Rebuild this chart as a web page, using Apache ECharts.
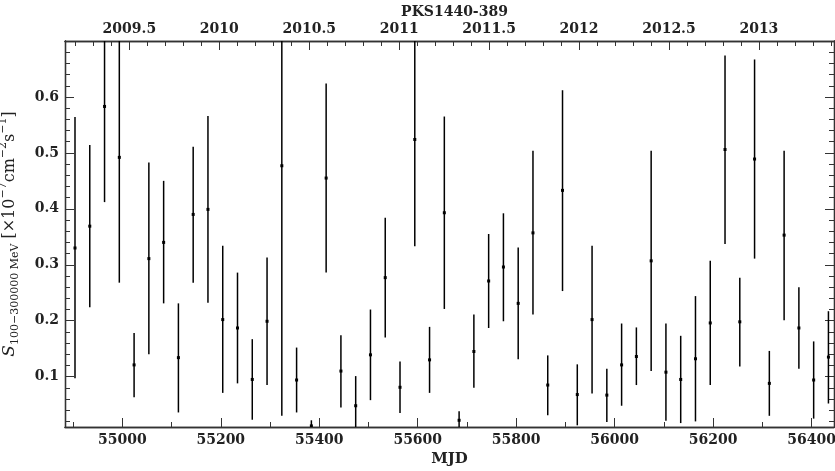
<!DOCTYPE html>
<html>
<head>
<meta charset="utf-8">
<title>PKS1440-389</title>
<script src="https://cdn.jsdelivr.net/npm/echarts@6/dist/echarts.min.js"></script>
<style>
  html, body { margin: 0; padding: 0; background: #fff; }
  #chart { width: 835px; height: 471px; }
</style>
</head>
<body>
<div id="chart"></div>
<script>
// 数据
var mjd = [54904, 54934, 54964, 54994, 55024, 55054, 55084, 55114, 55144, 55174,
  55204, 55234, 55264, 55294, 55324, 55354, 55384, 55414, 55444, 55474,
  55504, 55534, 55564, 55594, 55624, 55654, 55684, 55714, 55744, 55774,
  55804, 55834, 55864, 55894, 55924, 55954, 55984, 56014, 56044, 56074,
  56104, 56134, 56164, 56194, 56224, 56254, 56284, 56314, 56344, 56374,
  56404, 56434];
var flux = [0.330, 0.369, 0.583, 0.492, 0.121, 0.311, 0.340, 0.134, 0.390, 0.399,
  0.202, 0.187, 0.095, 0.199, 0.477, 0.094, 0.012, 0.455, 0.110, 0.048,
  0.139, 0.277, 0.081, 0.524, 0.130, 0.393, 0.022, 0.145, 0.271, 0.296,
  0.231, 0.357, 0.085, 0.433, 0.068, 0.202, 0.067, 0.121, 0.136, 0.307,
  0.108, 0.095, 0.132, 0.196, 0.506, 0.198, 0.489, 0.088, 0.353, 0.187,
  0.094, 0.135];
var fluxLo = [0.097, 0.224, 0.412, 0.268, 0.063, 0.140, 0.231, 0.036, 0.268, 0.232,
  0.071, 0.088, 0.023, 0.085, 0.030, 0.036, 0.002, 0.286, 0.045, -0.005,
  0.058, 0.170, 0.035, 0.333, 0.071, 0.221, 0.006, 0.080, 0.187, 0.199,
  0.131, 0.211, 0.031, 0.253, 0.013, 0.070, 0.019, 0.048, 0.085, 0.110,
  0.021, 0.017, 0.020, 0.085, 0.337, 0.118, 0.311, 0.030, 0.201, 0.114,
  0.025, 0.052];
var fluxHi = [0.564, 0.514, 0.754, 0.716, 0.178, 0.483, 0.450, 0.231, 0.511, 0.566,
  0.334, 0.286, 0.167, 0.313, 0.925, 0.152, 0.022, 0.624, 0.174, 0.101,
  0.220, 0.384, 0.127, 0.715, 0.189, 0.565, 0.038, 0.211, 0.355, 0.392,
  0.331, 0.504, 0.138, 0.612, 0.122, 0.334, 0.114, 0.195, 0.188, 0.504,
  0.195, 0.173, 0.244, 0.307, 0.674, 0.277, 0.667, 0.146, 0.504, 0.260,
  0.163, 0.217];

// 刻度
var mjdMajor = [55000, 55200, 55400, 55600, 55800, 56000, 56200, 56400];
var mjdMinor = [54900, 55100, 55300, 55500, 55700, 55900, 56100, 56300];
var yearMajor = [2009.5, 2010, 2010.5, 2011, 2011.5, 2012, 2012.5, 2013];
var fluxMajor = [0.1, 0.2, 0.3, 0.4, 0.5, 0.6];

var xMin = 54883.7, xMax = 56445.3;
var yMin = 0.01, yMax = 0.70;

// 年份 <-> MJD
function yearToMjd(y) {
  return 55197 + (y - 2010) * 365.25;
}
function mjdToYear(m) {
  return 2010 + (m - 55197) / 365.25;
}

var yearMinor = [];
for (var i = 92; i <= 134; i++) {
  var yr = 2000 + i / 10;
  if (i % 5 !== 0) yearMinor.push(yearToMjd(yr));
}
var fluxMinor = [];
for (var j = 1; j <= 34; j++) {
  if (j % 5 !== 0) fluxMinor.push(j / 50);
}

var data = [];
for (var k = 0; k < mjd.length; k++) {
  data.push([mjd[k], flux[k], fluxHi[k], fluxLo[k]]);
}

var font = 'DejaVu Serif';
var lineColor = '#333';
var labelStyle = { fontFamily: font, fontWeight: 'bold', fontSize: 14, color: '#222' };

function tickAxis(pos, min, max, values, len, label) {
  return {
    type: 'value',
    position: pos,
    min: min,
    max: max,
    splitLine: { show: false },
    axisLine: { show: true, onZero: false, lineStyle: { color: lineColor, width: 1.3 } },
    axisTick: { show: true, inside: true, length: len, customValues: values, lineStyle: { color: lineColor, width: 1 } },
    axisLabel: label || { show: false }
  };
}

var chart = echarts.init(document.getElementById('chart'), null, { renderer: 'canvas' });

var bottomMajor = tickAxis('bottom', xMin, xMax, mjdMajor, 9, Object.assign({
  customValues: mjdMajor, margin: 6,
  formatter: function (v) { return String(v); }
}, labelStyle));
bottomMajor.name = 'MJD';
bottomMajor.nameLocation = 'middle';
bottomMajor.nameGap = 19;
bottomMajor.nameTextStyle = { fontFamily: font, fontWeight: 'bold', fontSize: 15, color: '#222' };

var topMajorVals = yearMajor.map(yearToMjd);
var topMajor = tickAxis('top', xMin, xMax, topMajorVals, 9, Object.assign({
  customValues: topMajorVals, margin: 5,
  formatter: function (v) {
    var y = Math.round(mjdToYear(v) * 2) / 2;
    return y % 1 ? y.toFixed(1) : String(y);
  }
}, labelStyle));

var leftMajor = tickAxis('left', yMin, yMax, fluxMajor, 9, Object.assign({
  customValues: fluxMajor, margin: 6,
  formatter: function (v) { return v.toFixed(1); }
}, labelStyle));
leftMajor.name = '{it|S}{sub|100\u2212300000 MeV} [\u00d710{sup|\u22127}cm{sup|\u22122}s{sup|\u22121}]';
leftMajor.nameLocation = 'middle';
leftMajor.nameGap = 33;
leftMajor.nameTextStyle = {
  fontFamily: font, fontSize: 16, color: '#222', lineHeight: 28,
  rich: {
    it: { fontFamily: font, fontStyle: 'italic', fontSize: 17, lineHeight: 28, color: '#222' },
    sub: { fontFamily: font, fontSize: 11, lineHeight: 11, verticalAlign: 'bottom', padding: [0, 0, 3, 0], color: '#222' },
    sup: { fontFamily: font, fontSize: 11, lineHeight: 11, verticalAlign: 'top', padding: [2, 0, 0, 0], color: '#222' }
  }
};

var option = {
  backgroundColor: '#fff',
  animation: false,
  title: {
    text: 'PKS1440-389',
    left: 449.5,
    textAlign: 'center',
    top: 0,
    textStyle: { fontFamily: font, fontWeight: 'bold', fontSize: 14, color: '#222' }
  },
  grid: { left: 65, right: 1, top: 41, bottom: 44, containLabel: false, outerBoundsMode: 'none' },
  xAxis: [
    bottomMajor,
    tickAxis('bottom', xMin, xMax, mjdMinor, 5),
    topMajor,
    tickAxis('top', xMin, xMax, yearMinor, 5)
  ],
  yAxis: [
    leftMajor,
    tickAxis('left', yMin, yMax, fluxMinor, 5),
    tickAxis('right', yMin, yMax, fluxMajor, 9),
    tickAxis('right', yMin, yMax, fluxMinor, 5)
  ],
  series: [{
    type: 'custom',
    xAxisIndex: 0,
    yAxisIndex: 0,
    clip: true,
    data: data,
    encode: { x: 0, y: [1, 2, 3] },
    renderItem: function (params, api) {
      var x = api.value(0);
      var c = api.coord([x, api.value(1)]);
      var hi = api.coord([x, api.value(2)]);
      var lo = api.coord([x, api.value(3)]);
      return {
        type: 'group',
        children: [{
          type: 'line',
          shape: { x1: hi[0], y1: hi[1], x2: lo[0], y2: lo[1] },
          style: { stroke: '#000', lineWidth: 1.5 }
        }, {
          type: 'rect',
          shape: { x: c[0] - 1.5, y: c[1] - 1.5, width: 3, height: 3 },
          style: { fill: '#000' }
        }]
      };
    }
  }]
};

chart.setOption(option);
</script>
</body>
</html>
